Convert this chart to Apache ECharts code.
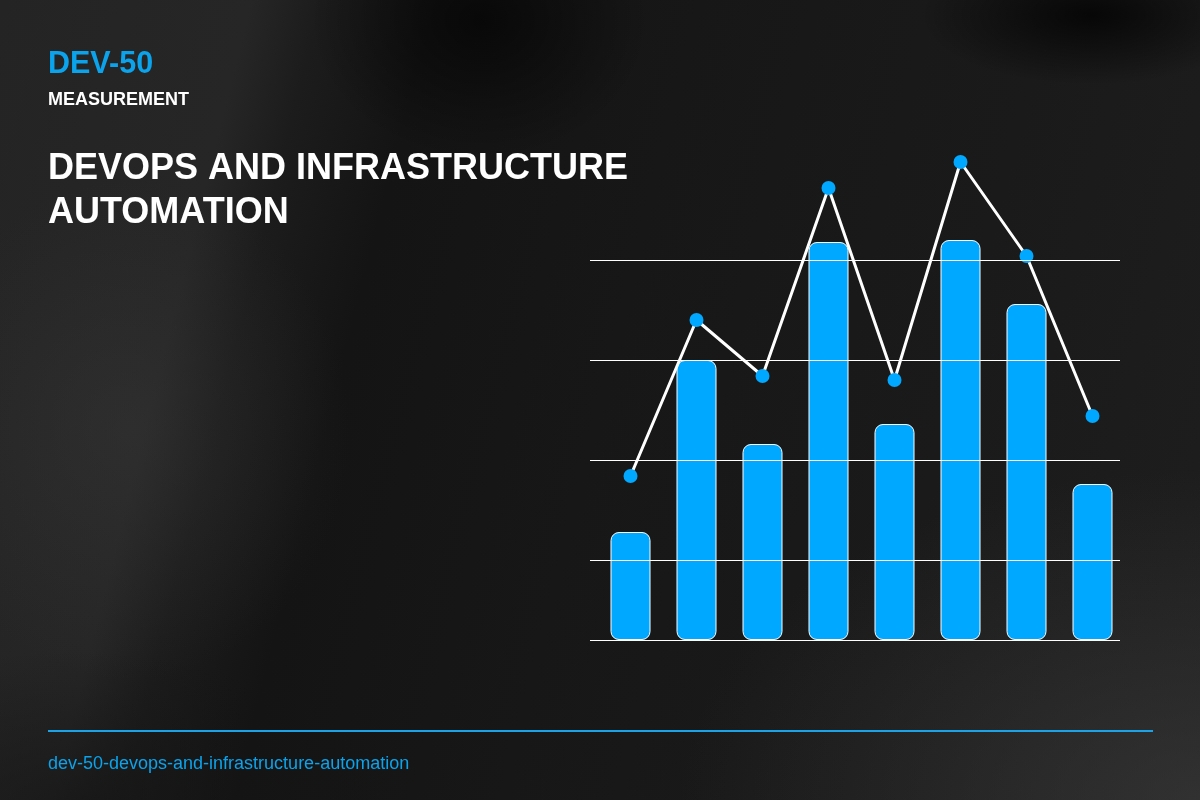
<!DOCTYPE html>
<html>
<head>
<meta charset="utf-8">
<script src="https://cdn.jsdelivr.net/npm/echarts@6/dist/echarts.min.js"></script>
<style>
  html, body { margin: 0; padding: 0; }
  body {
    width: 1200px; height: 800px; overflow: hidden;
    background:
      radial-gradient(ellipse 170px 70px at 1090px 15px, rgba(0,0,0,0.75), rgba(0,0,0,0) 100%),
      radial-gradient(ellipse 170px 140px at 480px 20px, rgba(0,0,0,0.6), rgba(0,0,0,0) 100%),
      radial-gradient(ellipse 320px 160px at 80px 810px, rgba(20,20,20,0.7), rgba(20,20,20,0) 100%),
      radial-gradient(ellipse 220px 250px at 130px 430px, rgba(58,58,58,0.4), rgba(58,58,58,0) 100%),
      radial-gradient(ellipse 520px 330px at 1200px 800px, rgba(62,62,62,0.6), rgba(62,62,62,0) 100%),
      linear-gradient(104deg, #242424 0%, #262626 18%, #1c1c1c 23%, #141414 31%, #171717 50%, #1a1a1a 75%, #1e1e1e 100%);
  }
  #chart { width: 1200px; height: 800px; }
</style>
</head>
<body>
<div id="chart"></div>
<script>
// ---- data ----
const categories = ['1', '2', '3', '4', '5', '6', '7', '8'];
const barValues  = [27, 70, 49, 99.5, 54, 100, 84, 39];
const lineValues = [41, 80, 66, 113, 65, 119.5, 96, 56];
const gridValues = [0, 20, 45, 70, 95];

const codeText   = 'DEV-50';
const kickerText = 'MEASUREMENT';
const titleText  = 'DEVOPS AND INFRASTRUCTURE\nAUTOMATION';
const slugText   = 'dev-50-devops-and-infrastructure-automation';

const BLUE = '#00a8ff';
const TEXT_BLUE = '#0aa3ec';
const FONT = 'Liberation Sans, Arial, sans-serif';

const chart = echarts.init(document.getElementById('chart'), null, { renderer: 'canvas' });

chart.setOption({
  backgroundColor: 'transparent',
  animation: false,
  title: [
    { text: codeText, left: 48, top: 49, padding: 0,
      textStyle: { color: TEXT_BLUE, fontSize: 30.5, fontWeight: 'bold', fontFamily: FONT } },
    { text: kickerText, left: 48, top: 91, padding: 0,
      textStyle: { color: '#ffffff', fontSize: 18, fontWeight: 'bold', fontFamily: FONT } },
    { text: titleText, left: 48, top: 147, padding: 0,
      textStyle: { color: '#ffffff', fontSize: 36, fontWeight: 'bold', lineHeight: 44, fontFamily: FONT } },
    { text: slugText, left: 48, top: 755, padding: 0,
      textStyle: { color: TEXT_BLUE, fontSize: 18, fontWeight: 'normal', fontFamily: FONT } }
  ],
  graphic: [
    { type: 'rect', shape: { x: 48, y: 730, width: 1105, height: 2 }, style: { fill: '#1aa3e6' }, silent: true }
  ],
  grid: [
    { left: 590, right: 80, top: 160, bottom: 160 },
    { left: 597.5, width: 528, top: 160, bottom: 160 }
  ],
  xAxis: [
    { gridIndex: 0, type: 'category', data: categories, show: false },
    { gridIndex: 1, type: 'category', data: categories, show: false }
  ],
  yAxis: [
    { gridIndex: 0, type: 'value', min: 0, max: 120, show: false, splitLine: { show: false } },
    { gridIndex: 1, type: 'value', min: 0, max: 120, show: false, splitLine: { show: false } }
  ],
  series: [
    {
      type: 'line', xAxisIndex: 0, yAxisIndex: 0, z: 1,
      data: categories.map(() => '-'),
      symbol: 'none', silent: true,
      markLine: {
        silent: true, symbol: 'none', animation: false,
        label: { show: false },
        lineStyle: { color: '#ffffff', width: 1, type: 'solid', opacity: 1 },
        emphasis: { disabled: true },
        data: gridValues.map(v => ({ yAxis: v }))
      }
    },
    {
      type: 'bar', xAxisIndex: 1, yAxisIndex: 1, z: 2,
      data: barValues,
      barWidth: 40,
      itemStyle: { color: BLUE, borderColor: '#ffffff', borderWidth: 1, borderRadius: 8 }
    },
    {
      type: 'line', xAxisIndex: 1, yAxisIndex: 1, z: 3,
      data: lineValues,
      clip: false,
      symbol: 'circle', symbolSize: 14,
      lineStyle: { color: '#ffffff', width: 3 },
      itemStyle: { color: BLUE, borderWidth: 0 }
    }
  ]
});
</script>
</body>
</html>
